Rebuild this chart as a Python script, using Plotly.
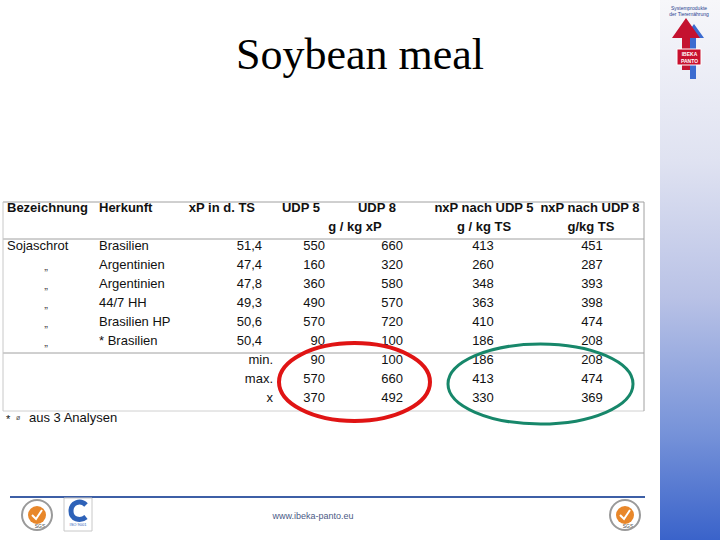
import plotly.graph_objects as go

# table data
bezeichnung = ["Sojaschrot", "„", "„", "„", "„", "„"]
herkunft = ["Brasilien", "Argentinien", "Argentinien", "44/7 HH", "Brasilien HP", "* Brasilien"]
xp_ts = [51.4, 47.4, 47.8, 49.3, 50.6, 50.4]
udp5 = [550, 160, 360, 490, 570, 90]
udp8 = [660, 320, 580, 570, 720, 100]
nxp_udp5 = [413, 260, 348, 363, 410, 186]
nxp_udp8 = [451, 287, 393, 398, 474, 208]

summary_labels = ["min.", "max.", "x"]
udp5_summary = [90, 570, 370]
udp8_summary = [100, 660, 492]
nxp_udp5_summary = [186, 413, 330]
nxp_udp8_summary = [208, 474, 369]

header_top = ["Bezeichnung", "Herkunft", "xP in d. TS", "UDP 5", "UDP 8", "nxP nach UDP 5", "nxP nach UDP 8"]
header_units = ["g / kg xP", "g / kg TS", "g/kg TS"]

# layout in pixel space (y grows downward)
ROW0 = 247
ROW_H = 19
SANS = "Liberation Sans, Arial, sans-serif"


def de(v):
    return f"{v:.1f}".replace(".", ",")


def text_trace(xs, ys, texts, pos, size=13, color="#111111", bold=False, family=SANS):
    if bold:
        texts = [f"<b>{t}</b>" for t in texts]
    return go.Scatter(
        x=xs, y=ys, text=texts, mode="text", textposition=pos,
        textfont=dict(family=family, size=size, color=color),
        hoverinfo="skip", showlegend=False, cliponaxis=False,
    )


n = len(herkunft)
rows = [ROW0 + i * ROW_H for i in range(n)]
srows = [ROW0 + (n + i) * ROW_H for i in range(len(summary_labels))]

fig = go.Figure()

# blue gradient strip on the right
fig.add_trace(go.Scatter(
    x=[660, 722, 722, 660, 660], y=[-2, -2, 542, 542, -2], mode="lines",
    fill="toself", line=dict(width=0), hoverinfo="skip", showlegend=False,
    fillgradient=dict(type="vertical", start=0, stop=540, colorscale=[
        [0.0, "#f7f7fa"], [0.3, "#dfe2f1"], [0.55, "#b9c2e6"],
        [0.8, "#7793d9"], [1.0, "#3a63ca"]]),
))

# header
fig.add_trace(text_trace([7], [209], header_top[:1], "middle right", bold=True))
fig.add_trace(text_trace([99], [209], header_top[1:2], "middle right", bold=True))
fig.add_trace(text_trace([255, 320, 396], [209] * 3, header_top[2:5], "middle left", bold=True))
fig.add_trace(text_trace([484, 590], [209] * 2, header_top[5:], "middle center", bold=True))
fig.add_trace(text_trace([355, 484, 591], [228] * 3, header_units, "middle center", bold=True))

# body
fig.add_trace(text_trace([7], rows[:1], bezeichnung[:1], "middle right"))
fig.add_trace(text_trace([46] * (n - 1), [r + 1 for r in rows[1:]], bezeichnung[1:], "middle center",
                         size=11, color="#444444"))
fig.add_trace(text_trace([99] * n, rows, herkunft, "middle right"))
fig.add_trace(text_trace([262] * n, rows, [de(v) for v in xp_ts], "middle left"))
fig.add_trace(text_trace([325] * n, rows, [str(v) for v in udp5], "middle left"))
fig.add_trace(text_trace([403] * n, rows, [str(v) for v in udp8], "middle left"))
fig.add_trace(text_trace([483] * n, rows, [str(v) for v in nxp_udp5], "middle center"))
fig.add_trace(text_trace([592] * n, rows, [str(v) for v in nxp_udp8], "middle center"))

# summary rows
fig.add_trace(text_trace([273] * 3, srows, summary_labels, "middle left"))
fig.add_trace(text_trace([325] * 3, srows, [str(v) for v in udp5_summary], "middle left"))
fig.add_trace(text_trace([403] * 3, srows, [str(v) for v in udp8_summary], "middle left"))
fig.add_trace(text_trace([483] * 3, srows, [str(v) for v in nxp_udp5_summary], "middle center"))
fig.add_trace(text_trace([592] * 3, srows, [str(v) for v in nxp_udp8_summary], "middle center"))

# footnote
fig.add_trace(text_trace([6], [420], ["*"], "middle right", size=11))
fig.add_trace(text_trace([16], [418], ["ø"], "middle right", size=7, color="#555555"))
fig.add_trace(text_trace([29], [419], ["aus 3 Analysen"], "middle right"))

# footer url
fig.add_trace(text_trace([313], [517], ["www.ibeka-panto.eu"], "middle center", size=9, color="#4b5a86"))

# logo texts
fig.add_trace(text_trace([689, 689], [9, 15], ["Systemprodukte", "der Tierernährung"], "middle center", size=5, color="#2a3f8f"))
fig.add_trace(text_trace([40, 628], [527, 527], ["SGS", "SGS"], "middle center", size=5, color="#444444"))
fig.add_trace(text_trace([78], [525], ["ISO 9001"], "middle center", size=4, color="#2e62b8"))

line = dict(color="#a0a0a0", width=1)
shapes = [
    dict(type="line", x0=3, x1=644, y0=202, y1=202, line=line),
    dict(type="line", x0=3, x1=644, y0=239, y1=239, line=line),
    dict(type="line", x0=3, x1=644, y0=353, y1=353, line=line),
    dict(type="line", x0=3, x1=644, y0=411, y1=411, line=dict(color="#d0d0d0", width=1)),
    dict(type="line", x0=3, x1=3, y0=202, y1=411, line=dict(color="#c8c8c8", width=1)),
    dict(type="line", x0=644, x1=644, y0=202, y1=411, line=line),
    # highlight ellipses
    dict(type="circle", x0=279, x1=430, y0=343, y1=421, line=dict(color="#e01414", width=4)),
    dict(type="circle", x0=448, x1=633, y0=344, y1=424, line=dict(color="#17876a", width=3)),
    # footer rule
    dict(type="line", x0=10, x1=645, y0=497, y1=497, line=dict(color="#3d5fa6", width=2)),
    # logo: blue arrow behind, red arrow, red box
    dict(type="path", path="M 690 79 L 696 79 L 696 38 L 704 38 L 694 24 L 684 38 L 690 38 Z",
         fillcolor="#3b6bd0", line=dict(width=0)),
    dict(type="path", path="M 682 70 L 690 70 L 690 38 L 700 38 L 686 18 L 672 38 L 682 38 Z",
         fillcolor="#c4122f", line=dict(width=0)),
    dict(type="rect", x0=677, x1=701, y0=49, y1=65, fillcolor="#c8102e", line=dict(color="#ffffff", width=1)),
    # left SGS logo
    dict(type="circle", x0=22, x1=52, y0=500, y1=530, line=dict(color="#9a9a9a", width=2)),
    dict(type="circle", x0=28, x1=46, y0=506, y1=524, fillcolor="#e8872a", line=dict(width=0)),
    dict(type="path", path="M 32 515 L 36 519 L 42 510", line=dict(color="#ffffff", width=2)),
    # certificate logo
    dict(type="rect", x0=64, x1=92, y0=498, y1=531, line=dict(color="#c8c8c8", width=1)),
    dict(type="path", path="M 86 505 C 80 499 71 503 71 511 C 71 519 80 522 86 517",
         line=dict(color="#2e62b8", width=5)),
    # right SGS logo
    dict(type="circle", x0=610, x1=640, y0=500, y1=530, line=dict(color="#9a9a9a", width=2)),
    dict(type="circle", x0=616, x1=634, y0=506, y1=524, fillcolor="#e8872a", line=dict(width=0)),
    dict(type="path", path="M 620 515 L 624 519 L 630 510", line=dict(color="#ffffff", width=2)),
]

annotations = [
    dict(x=360, y=54, xref="x", yref="y", text="Soybean meal", showarrow=False,
         font=dict(family="Liberation Serif, Times New Roman, serif", size=44, color="#000000")),
    # label inside the red logo box (annotations sit above shapes)
    dict(x=689, y=57, xref="x", yref="y", text="<b>IBEKA</b><br><b>PANTO</b>", showarrow=False,
         font=dict(family=SANS, size=5, color="#ffffff")),
]

fig.update_layout(
    width=720, height=540,
    margin=dict(l=0, r=0, t=0, b=0),
    paper_bgcolor="#ffffff", plot_bgcolor="#ffffff",
    xaxis=dict(range=[0, 720], visible=False, fixedrange=True),
    yaxis=dict(range=[540, 0], visible=False, fixedrange=True),
    shapes=shapes,
    annotations=annotations,
    showlegend=False,
)

# the page body has a default 8px margin; drop it so the slide sits at the window origin
fig.write_html(
    "out.html",
    config={"displayModeBar": False, "staticPlot": True},
    post_script="document.body.style.margin = '0';",
)
